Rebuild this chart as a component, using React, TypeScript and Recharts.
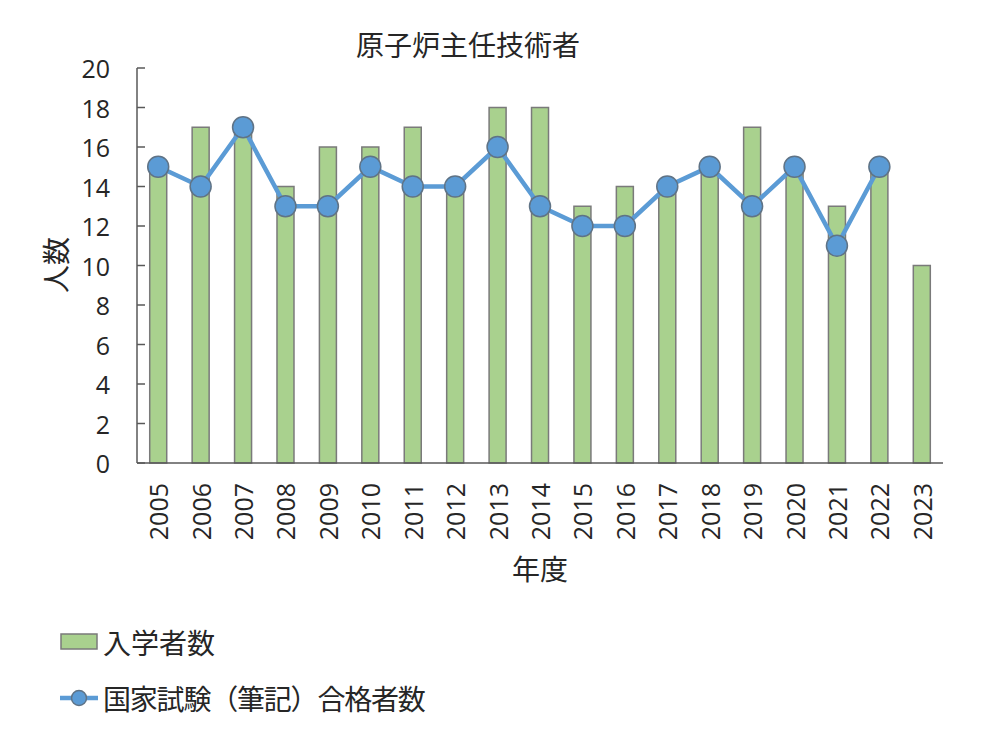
import React from 'react';
import { ComposedChart, Bar, Line, XAxis, YAxis } from 'recharts';

const years = ['2005', '2006', '2007', '2008', '2009', '2010', '2011', '2012', '2013', '2014', '2015', '2016', '2017', '2018', '2019', '2020', '2021', '2022', '2023'];
const enrolled = [15, 17, 17, 14, 16, 16, 17, 14, 18, 18, 13, 14, 14, 15, 17, 15, 13, 15, 10];
const passed: (number | null)[] = [15, 14, 17, 13, 13, 15, 14, 14, 16, 13, 12, 12, 14, 15, 13, 15, 11, 15, null];
const yTicks = [0, 2, 4, 6, 8, 10, 12, 14, 16, 18, 20];

const data = years.map((year, i) => ({ year, enrolled: enrolled[i], passed: passed[i] }));

const BAR_FILL = '#a9d18e';
const BAR_STROKE = '#7a7a7a';
const LINE_COLOR = '#5b9bd5';
const DOT_STROKE = '#5f7386';
const AXIS_COLOR = '#595959';
const TEXT_COLOR = '#262626';
const NUM_FONT = '"Open Sans", "Noto Sans CJK JP", sans-serif';
const CJK_FONT = '"Noto Sans CJK JP", sans-serif';

// y ticks point inward, like the Excel original
const YTick = ({ x, y, payload }: any) => (
    <g>
        <line x1={x} x2={x + 8} y1={y} y2={y} stroke={AXIS_COLOR} strokeWidth={1.5} />
        <text x={x - 27} y={y} textAnchor="end" dominantBaseline="central" fill={TEXT_COLOR} fontSize={25} fontFamily={NUM_FONT}>
            {payload.value}
        </text>
    </g>
);

const XTick = ({ x, y, payload }: any) => (
    <text
        transform={`translate(${x},${y + 20}) rotate(-90)`}
        textAnchor="end"
        dominantBaseline="central"
        fill={TEXT_COLOR}
        fontSize={25}
        fontFamily={NUM_FONT}
    >
        {payload.value}
    </text>
);

export default function App() {
    return (
        <div style={{ position: 'relative', width: 999, height: 735, background: '#fff' }}>
            <style>{`body{margin:0}`}</style>
            <ComposedChart
                width={999}
                height={735}
                data={data}
                margin={{ top: 68, right: 56, left: 0, bottom: 172 }}
                barCategoryGap="30%"
            >
                <XAxis
                    dataKey="year"
                    height={100}
                    interval={0}
                    tickLine={false}
                    tickSize={0}
                    tickMargin={0}
                    tick={<XTick />}
                    axisLine={{ stroke: AXIS_COLOR, strokeWidth: 1.5 }}
                />
                <YAxis
                    width={137}
                    domain={[0, 20]}
                    ticks={yTicks}
                    interval={0}
                    tickLine={false}
                    tickSize={0}
                    tickMargin={0}
                    tick={<YTick />}
                    axisLine={{ stroke: AXIS_COLOR, strokeWidth: 1.5 }}
                />
                <Bar dataKey="enrolled" fill={BAR_FILL} stroke={BAR_STROKE} strokeWidth={1.5} isAnimationActive={false} />
                <Line
                    dataKey="passed"
                    stroke={LINE_COLOR}
                    strokeWidth={4.5}
                    dot={{ r: 10.5, fill: LINE_COLOR, stroke: DOT_STROKE, strokeWidth: 1.5 }}
                    activeDot={false}
                    isAnimationActive={false}
                />
            </ComposedChart>

            <div style={{ position: 'absolute', left: 268, width: 400, top: 26, textAlign: 'center', fontSize: 28, lineHeight: '36px', fontFamily: CJK_FONT, color: TEXT_COLOR }}>
                原子炉主任技術者
            </div>
            <div style={{ position: 'absolute', left: 5, top: 247, width: 100, textAlign: 'center', fontSize: 28, lineHeight: '36px', fontFamily: CJK_FONT, color: TEXT_COLOR, transform: 'rotate(-90deg)' }}>
                人数
            </div>
            <div style={{ position: 'absolute', left: 440, top: 550, width: 200, textAlign: 'center', fontSize: 28, lineHeight: '36px', fontFamily: CJK_FONT, color: TEXT_COLOR }}>
                年度
            </div>

            {/* legend */}
            <div style={{ position: 'absolute', left: 60, top: 624, display: 'flex', alignItems: 'center', fontSize: 28, lineHeight: '36px', fontFamily: CJK_FONT, color: TEXT_COLOR }}>
                <svg width={40} height={20} style={{ marginRight: 3 }}>
                    <rect x={1} y={2} width={36} height={15} fill={BAR_FILL} stroke={BAR_STROKE} strokeWidth={1.5} />
                </svg>
                入学者数
            </div>
            <div style={{ position: 'absolute', left: 60, top: 680, display: 'flex', alignItems: 'center', fontSize: 28, lineHeight: '36px', letterSpacing: -1.2, fontFamily: CJK_FONT, color: TEXT_COLOR }}>
                <svg width={40} height={20} style={{ marginRight: 3 }}>
                    <line x1={0} x2={38} y1={10} y2={10} stroke={LINE_COLOR} strokeWidth={4.5} />
                    <circle cx={19} cy={10} r={7.5} fill={LINE_COLOR} stroke={DOT_STROKE} strokeWidth={1.5} />
                </svg>
                国家試験（筆記）合格者数
            </div>
        </div>
    );
}
